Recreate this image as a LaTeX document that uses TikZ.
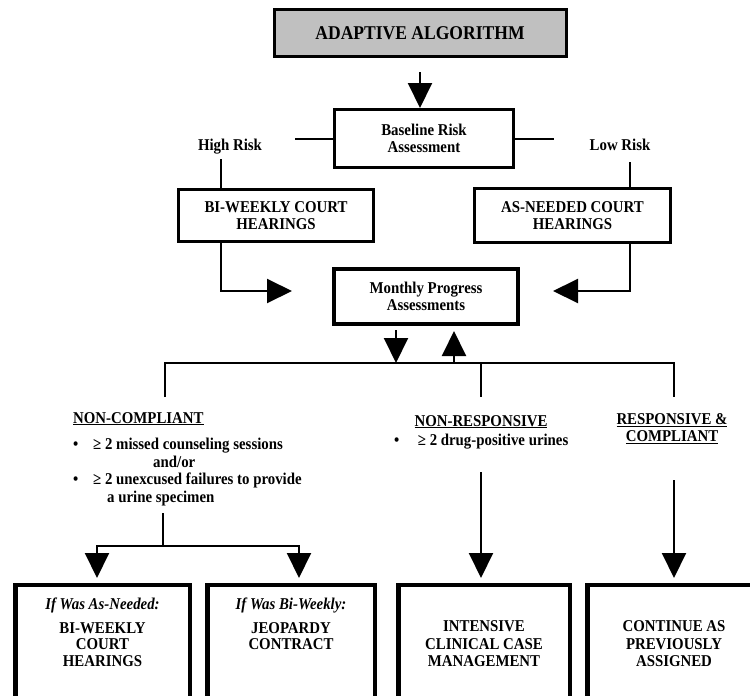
\documentclass[tikz,border=0pt]{standalone}
\usepackage{fontspec}
\setmainfont{Liberation Serif}[FakeStretch=0.9]
\usetikzlibrary{arrows.meta}
\definecolor{titlegray}{RGB}{192,192,192}
\begin{document}
\begin{tikzpicture}[x=1pt,y=-1pt,
 font=\bfseries\fontsize{16.5}{17.5}\selectfont,
 box/.style={draw,line width=3pt,align=center,inner sep=0pt},
 endbox/.style={draw,line width=4.5pt,minimum width=#1,minimum height=130pt,inner sep=0pt},
 lbl/.style={inner sep=0pt,align=center},
 endtxt/.style={inner sep=0pt,align=center,anchor=north,font=\bfseries\fontsize{16.5}{16.5}\selectfont},
 link/.style={line width=2pt},
 arr/.style={line width=2pt,-{Triangle[width=24pt,length=25pt]}}]
 \path[use as bounding box] (0,0) rectangle (750,696);
 \clip (0,0) rectangle (750,696);
 % boxes
 \node[box,fill=titlegray,minimum width=292pt,minimum height=47pt,font=\bfseries\fontsize{19.5}{20}\selectfont] (title) at (420,33) {ADAPTIVE ALGORITHM};
 \node[box,minimum width=179pt,minimum height=58pt] (baseline) at (424,138.5) {Baseline Risk\\Assessment};
 \node[box,minimum width=195pt,minimum height=52pt] (biweekly) at (276,215.5) {BI-WEEKLY COURT\\HEARINGS};
 \node[box,minimum width=196pt,minimum height=54pt] (asneeded) at (572.5,215.5) {AS-NEEDED COURT\\HEARINGS};
 \node[box,line width=4pt,minimum width=184pt,minimum height=55pt] (monthly) at (426,296.5) {Monthly Progress\\Assessments};
 \node[endbox=174.5pt] (asneed2) at (102.5,650) {};
 \node[endbox=167.5pt] (jeopardy) at (291,650) {};
 \node[endbox=171.5pt] (intensive) at (484,650) {};
 \node[endbox=171.5pt] (continue) at (673,650) {};
 % labels
 \node[lbl,anchor=base] (highrisk) at (230,150) {High Risk};
 \node[lbl,anchor=base] (lowrisk) at (620,150) {Low Risk};
 \node[lbl,anchor=base west] (noncomp) at (73,423) {\underline{NON-COMPLIANT}};
 \node[lbl,anchor=north west] (noncomplist) at (73,437.5) {\begin{tabular}{@{}p{20pt}@{}l@{}}
  •&≥ 2 missed counseling sessions\\
  &\hspace{60pt}and/or\\
  •&≥ 2 unexcused failures to provide\\
  &\hspace{14pt}a urine specimen\end{tabular}};
 \node[lbl,anchor=base] (nonresp) at (481,426) {\underline{NON-RESPONSIVE}};
 \node[lbl,anchor=base west] (nonresplist) at (394,445) {•\hspace{18.5pt}≥ 2 drug-positive urines};
 \node[lbl,anchor=north] (respcomp) at (672,413) {\underline{RESPONSIVE \&}\\\underline{COMPLIANT}};
 \node[endtxt] (asneed2txt) at ([yshift=-14.75pt]asneed2.north) {\textit{If Was As-Needed:}\\[7.5pt]BI-WEEKLY\\COURT\\HEARINGS};
 \node[endtxt] (jeopardytxt) at ([yshift=-14.75pt]jeopardy.north) {\textit{If Was Bi-Weekly:}\\[7.5pt]JEOPARDY\\CONTRACT};
 \node[endtxt,font=\bfseries\fontsize{16.5}{17.5}\selectfont] (intensivetxt) at ([yshift=-37.75pt]intensive.north) {INTENSIVE\\CLINICAL CASE\\MANAGEMENT};
 \node[endtxt,font=\bfseries\fontsize{16.5}{17.5}\selectfont] (continuetxt) at ([xshift=1pt,yshift=-37.75pt]continue.north) {CONTINUE AS\\PREVIOUSLY\\ASSIGNED};
 % coordinates
 \coordinate (hrend) at (295,141);
 \coordinate (lrend) at (554,141);
 \coordinate (hrtop) at (221,159);
 \coordinate (lrtop) at (630,162);
 \coordinate (inl) at (292,291);
 \coordinate (inr) at (553,291);
 \coordinate (bus) at (0,363);
 \coordinate (mdown) at (396,330);
 \coordinate (mup) at (454,331);
 \coordinate (ncl) at (165,397);
 \coordinate (nrl) at (481,397);
 \coordinate (rcl) at (674,397);
 \coordinate (nclow) at (163,513);
 \coordinate (split) at (163,546);
 \coordinate (tipl) at (97,578);
 \coordinate (tipr) at (299,578);
 \coordinate (nrlow) at (481,472);
 \coordinate (rclow) at (674,480);
 % connectors
 \draw[arr] ([yshift=-14pt]title.south) -- (title.south |- baseline.north);
 \draw[link] (baseline.west) -- (baseline.west -| hrend);
 \draw[link] (baseline.east) -- (baseline.east -| lrend);
 \draw[link] (hrtop) -- (hrtop |- biweekly.north);
 \draw[link] (lrtop) -- (lrtop |- asneeded.north);
 \draw[arr] (hrtop |- biweekly.south) |- (inl);
 \draw[arr] (lrtop |- asneeded.south) |- (inr);
 \draw[arr] (mdown) -- (mdown |- bus);
 \draw[arr] (mup |- bus) -- (mup);
 \draw[link] (ncl) -- (ncl |- bus) -- (rcl |- bus) -- (rcl);
 \draw[link] (nrl |- bus) -- (nrl);
 \draw[link] (nclow) -- (split);
 \draw[arr] (split) -| (tipl);
 \draw[arr] (split) -| (tipr);
 \draw[arr] (nrlow) -- (nrlow |- tipl);
 \draw[arr] (rclow) -- (rclow |- tipl);
\end{tikzpicture}
\end{document}
